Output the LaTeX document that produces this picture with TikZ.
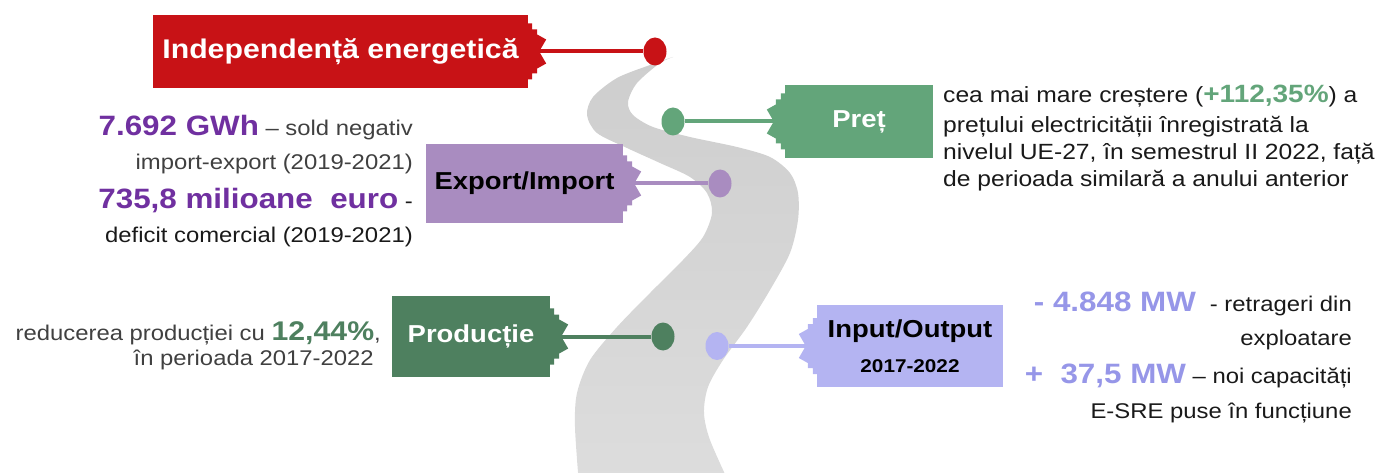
\documentclass[tikz,border=0pt]{standalone}
\usepackage{fontspec}
\setmainfont{Liberation Sans}[FakeStretch=1.12]
\usepackage{tikz}
\usetikzlibrary{shapes.geometric}

\definecolor{redc}{RGB}{200,18,22}
\definecolor{pretc}{RGB}{99,165,122}
\definecolor{expc}{RGB}{169,140,192}
\definecolor{prodc}{RGB}{78,128,95}
\definecolor{ioc}{RGB}{180,180,242}
\definecolor{purpt}{RGB}{112,48,160}
\definecolor{lavt}{RGB}{150,150,232}
\definecolor{grayt}{RGB}{64,64,64}
\definecolor{darkt}{RGB}{25,25,25}
\definecolor{roadtop}{RGB}{206,206,206}
\definecolor{roadbot}{RGB}{221,221,221}

\tikzset{
    flag/.style={rectangle, inner sep=0pt, text=white,
                 font=\bfseries\fontsize{24.5}{35}\selectfont},
    dot/.style={ellipse, minimum width=23pt, minimum height=28pt, inner sep=0pt},
    link/.style={line width=4pt},
    txt/.style={inner sep=0pt, text=darkt, font=\fontsize{21.3}{25}\selectfont},
    pretxt/.style={txt, font=\fontsize{22}{25}\selectfont, anchor=base west}
}

\newcommand{\hl}[3]{{\color{#1}\bfseries\fontsize{#2}{30}\selectfont #3}}
\newcommand{\jagE}[2]{\fill[#2, shift={(#1.east)}] (-0.5,-28) -- (4,-28) -- (4,-22) -- (9,-22)
    -- (9,-17) -- (18,-12) -- (11,0) -- (18,12) -- (9,17) -- (9,22) -- (4,22) -- (4,28)
    -- (-0.5,28) -- cycle;}
\newcommand{\jagW}[2]{\fill[#2, shift={(#1.west)}, xscale=-1] (-0.5,-28) -- (4,-28) -- (4,-22)
    -- (9,-22) -- (9,-17) -- (18,-12) -- (11,0) -- (18,12) -- (9,17) -- (9,22) -- (4,22)
    -- (4,28) -- (-0.5,28) -- cycle;}

\begin{document}
\begin{tikzpicture}[x=1pt, y=-1pt]
    \useasboundingbox (0,0) rectangle (1377,473);

    \shade[top color=roadtop, bottom color=roadbot] plot[smooth] coordinates {
        (579,485) (575,427) (577,393) (590,360) (617,327) (650,293) (683,260) (703,237)
        (712,213) (707,193) (690,177) (660,163) (627,148) (597,133) (587,115) (593,97)
        (617,78) (650,65) (673,57) (660,63) (637,83) (628,102) (633,115) (653,127)
        (690,137) (737,147) (770,157) (790,173) (798,193) (798,220) (790,253) (770,290)
        (747,327) (723,360) (708,387) (704,413) (710,440) (730,485)} -- cycle;

    \node[flag, fill=redc, minimum width=375pt, minimum height=73pt,
          font=\bfseries\fontsize{27}{30}\selectfont] (redflag) at (340.5,51.5) {Independență energetică};
    \node[flag, fill=pretc, minimum width=148pt, minimum height=73pt] (pretflag) at (859,121.5) {Preț};
    \node[flag, fill=expc, text=black, minimum width=197pt, minimum height=79pt] (expflag) at (524.5,183.5) {Export/Import};
    \node[flag, fill=prodc, minimum width=158pt, minimum height=81pt] (prodflag) at (471,336.5) {Producție};
    \node[flag, fill=ioc, text=black, align=center, minimum width=186pt, minimum height=82pt] (ioflag) at (910,346)
        {Input/Output\\{\fontsize{18.5}{35}\selectfont 2017-2022}};

    \node[dot, fill=redc] (reddot) at (655,51.5) {};
    \node[dot, fill=pretc] (pretdot) at (673,121.5) {};
    \node[dot, fill=expc] (expdot) at (720,183.5) {};
    \node[dot, fill=prodc] (proddot) at (663,336.5) {};
    \node[dot, fill=ioc] (iodot) at (717,346) {};

    \draw[link, redc] (redflag.east) -- (reddot);
    \draw[link, pretc] (pretflag.west) -- (pretdot);
    \draw[link, expc] (expflag.east) -- (expdot);
    \draw[link, prodc] (prodflag.east) -- (proddot);
    \draw[link, ioc] (ioflag.west) -- (iodot);

    \jagE{redflag}{redc}
    \jagW{pretflag}{pretc}
    \jagE{expflag}{expc}
    \jagE{prodflag}{prodc}
    \jagW{ioflag}{ioc}

    \node[txt, text=grayt, anchor=base east] (exp1) at (413,136) {\hl{purpt}{28}{7.692 GWh} – sold negativ};
    \node[txt, text=grayt, anchor=base east] (exp2) at (413,170) {import-export (2019-2021)};
    \node[txt, anchor=base east] (exp3) at (413,209) {\hl{purpt}{28}{735,8 milioane\ \ euro} -};
    \node[txt, anchor=base east] (exp4) at (413,243) {deficit comercial (2019-2021)};

    \node[pretxt] (pret1) at (943,103) {cea mai mare creștere (\hl{pretc}{25}{+112,35\%}) a};
    \node[pretxt] (pret2) at (943,133) {prețului electricității înregistrată la};
    \node[pretxt] (pret3) at (943,160) {nivelul UE-27, în semestrul II 2022, față};
    \node[pretxt] (pret4) at (943,187) {de perioada similară a anului anterior};

    \node[txt, text=grayt, anchor=base east] (prod1) at (381,341) {reducerea producției cu \hl{prodc}{27}{12,44\%},};
    \node[txt, text=grayt, anchor=base east] (prod2) at (374,365) {în perioada 2017-2022};

    \node[txt, anchor=base east] (io1) at (1352,312) {\hl{lavt}{28}{- 4.848 MW}\hspace{14pt}- retrageri din};
    \node[txt, anchor=base east] (io2) at (1352,345) {exploatare};
    \node[txt, anchor=base east] (io3) at (1352,383) {\hl{lavt}{28}{+\ \ 37,5 MW} – noi capacități};
    \node[txt, anchor=base east] (io4) at (1352,418) {E-SRE puse în funcțiune};
\end{tikzpicture}
\end{document}
